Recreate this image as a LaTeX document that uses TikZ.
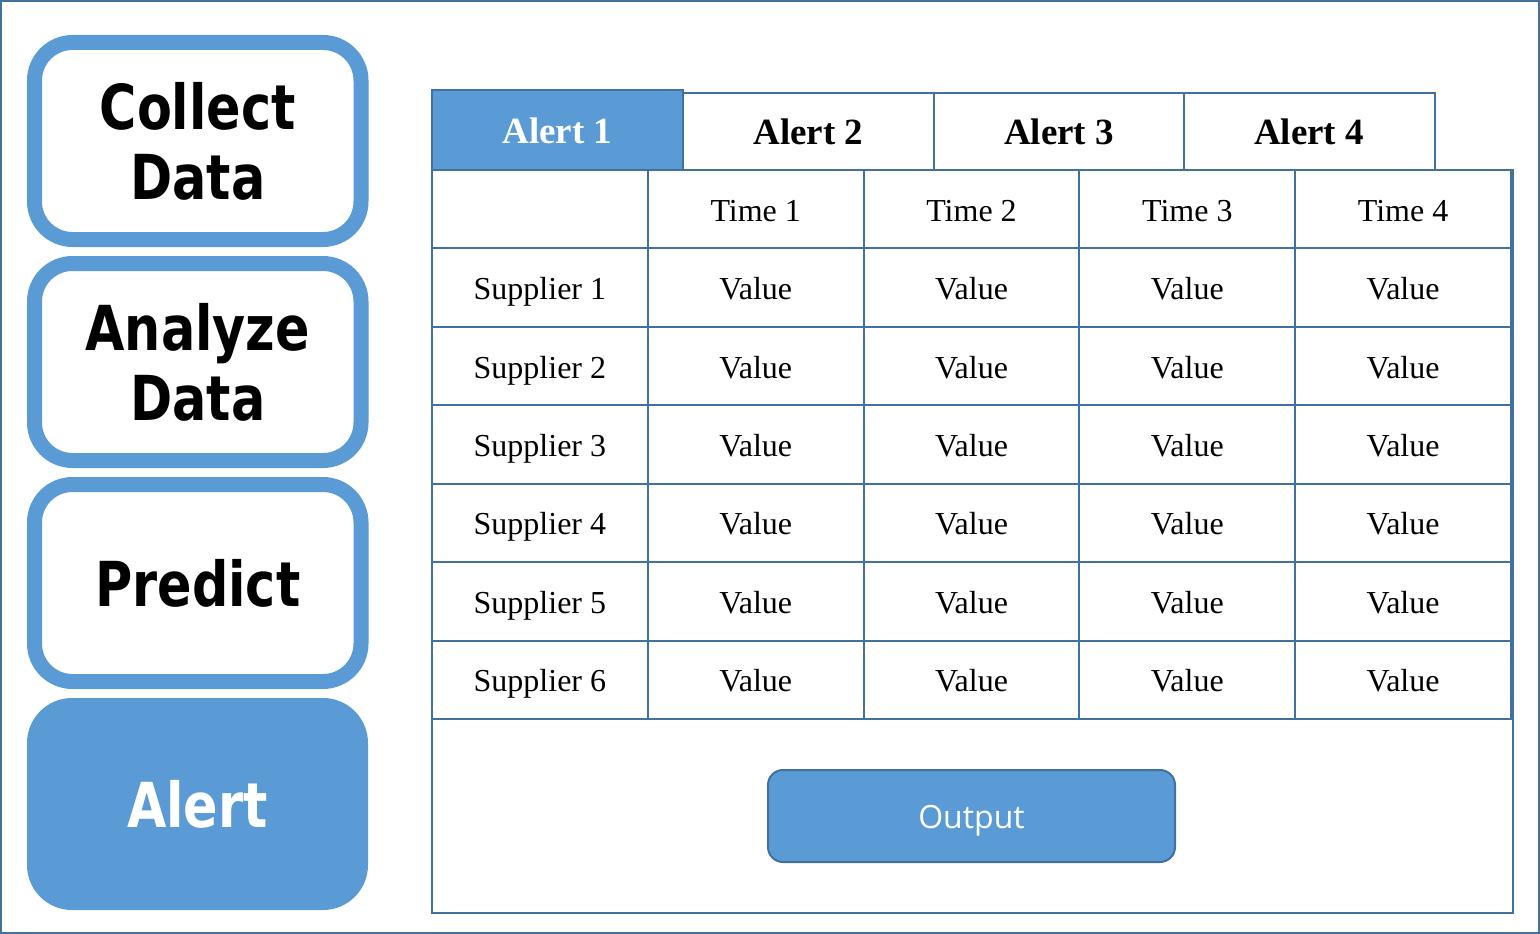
\documentclass[tikz,border=0pt]{standalone}
\usepackage{fontspec}
\setmainfont{Liberation Serif}
\newfontfamily\boxfont[FakeStretch=0.82]{DejaVu Sans}
\newfontfamily\btnfont{Open Sans}
\definecolor{lblue}{HTML}{5B9BD5}
\definecolor{dblue}{HTML}{41719C}
\tikzset{
  stepbox/.style={draw=lblue, line width=15pt, rounded corners=38pt, fill=white,
    minimum width=326.5pt, minimum height=197pt, inner sep=0pt, align=center,
    font=\boxfont\bfseries\fontsize{62}{70}\selectfont},
  alertbox/.style={fill=lblue, rounded corners=45pt, minimum width=341pt,
    minimum height=212pt, inner sep=0pt, text=white,
    font=\boxfont\bfseries\fontsize{62}{70}\selectfont},
  tab/.style={draw=dblue, line width=2pt, fill=white, minimum width=251pt,
    minimum height=77pt, inner sep=0pt, text height=26pt, text depth=0pt,
    font=\bfseries\fontsize{37}{40}\selectfont},
  cell/.style={draw=dblue, line width=2pt, minimum width=215.8pt,
    minimum height=78.43pt, inner sep=0pt, text height=24pt, text depth=0pt,
    font=\fontsize{32}{36}\selectfont},
  outbtn/.style={draw=dblue, line width=2pt, fill=lblue, rounded corners=15pt,
    minimum width=407pt, minimum height=92pt, text=white, inner sep=0pt,
    text height=24pt, text depth=0pt,
    font=\btnfont\fontsize{32}{36}\selectfont},
}
\begin{document}
\begin{tikzpicture}[x=1pt,y=-1pt]
\useasboundingbox (0,0) rectangle (1540,934);
\draw[dblue, line width=2pt] (1,1) rectangle (1539,933);
% left steps
\node[stepbox] (collect) at (197.75,141) {Collect\\Data};
\node[stepbox] (analyze) at (197.75,362) {Analyze\\Data};
\node[stepbox] (predict) at (197.75,583) {Predict};
\node[alertbox] (alert) at (197.5,804) {Alert};
% panel
\node[draw=dblue, line width=2pt, minimum width=1081pt, minimum height=743pt,
  inner sep=0pt] (panel) at (972.5,541.5) {};
% tabs
\node[tab, fill=lblue, text=white, minimum height=80pt] (t1) at (557.5,130) {Alert 1};
\node[tab] (t2) at (808.5,131.5) {Alert 2};
\node[tab] (t3) at (1059,131.5) {Alert 3};
\node[tab] (t4) at (1309,131.5) {Alert 4};
% table header
\node[cell] (h0) at (539.9,209.2) {};
\foreach \i in {1,...,4}{
  \node[cell] (h\i) at ({539.9+215.8*\i},209.2) {Time \i};
}
\foreach \r in {1,...,6}{
  \node[cell] (s\r) at (539.9,{209.2+78.43*\r}) {Supplier \r};
  \foreach \i in {1,...,4}{
    \node[cell] (v\r\i) at ({539.9+215.8*\i},{209.2+78.43*\r}) {Value};
  }
}
% output
\node[outbtn] (out) at (971.5,816) {Output};
\end{tikzpicture}
\end{document}
